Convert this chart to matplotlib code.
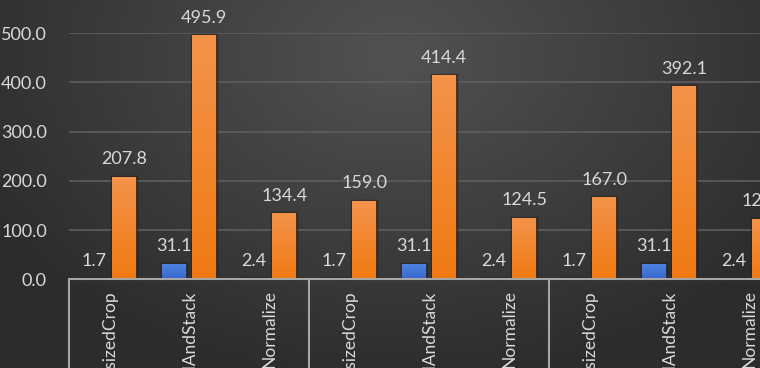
import numpy as np
import matplotlib
matplotlib.use("Agg")
import matplotlib.pyplot as plt
from matplotlib import patheffects as pe

categories = ["RandomResizedCrop", "PadAndStack", "Normalize",
              "RandomResizedCrop", "PadAndStack", "Normalize",
              "RandomResizedCrop", "PadAndStack", "Normalize"]
series_blue = [1.7, 31.1, 2.4, 1.7, 31.1, 2.4, 1.7, 31.1, 2.4]
series_orange = [207.8, 495.9, 134.4, 159.0, 414.4, 124.5, 167.0, 392.1, 122.6]
y_ticks = [0, 100, 200, 300, 400, 500]
group_size = 3

plt.rcParams['font.family'] = ['Lato', 'DejaVu Sans']
TXT = '#d9d9d9'
NUM_FS = 13
CAT_FS = 12.5

W, H = 760, 368
fig = plt.figure(figsize=(W / 100, H / 100), dpi=100)

# background radial gradient
bg = fig.add_axes([0, 0, 1, 1], zorder=-10)
yy, xx = np.mgrid[0:H, 0:W]
cx, cy = 0.52 * W, 0.15 * H
r = np.sqrt(((xx - cx) / (0.62 * W)) ** 2 + ((yy - cy) / (0.9 * H)) ** 2)
r = np.clip(r, 0, 1)
light = np.array([0x52, 0x52, 0x52]) / 255
dark = np.array([0x2c, 0x2c, 0x2c]) / 255
img = light[None, None, :] * (1 - r[..., None]) + dark[None, None, :] * r[..., None]
bg.imshow(img, aspect='auto', extent=[0, 1, 0, 1], origin='upper')
bg.axis('off')

# axes: baseline at y=279.3px, 500 at y=33px, left at x=69, 80px per category
left = 69 / W
bottom = (H - 279.3) / H
height = (279.3 - 33) / H
n = len(categories)
width = 80 * n / W
ax = fig.add_axes([left, bottom, width, height])
ax.patch.set_alpha(0)

x = np.arange(n)
bw = 0.3
off = 0.19

def grad_bars(bars, top_col, bot_col):
    for b in bars:
        x0, y0 = b.get_x(), b.get_y()
        w, h = b.get_width(), b.get_height()
        if h <= 0:
            continue
        g = np.linspace(0, 1, 64)[:, None, None]
        c = np.array(top_col)[None, None, :] * (1 - g) + np.array(bot_col)[None, None, :] * g
        im = ax.imshow(c, aspect='auto', extent=[x0, x0 + w, y0, y0 + h],
                       origin='upper', zorder=3, clip_on=True)
        im.set_clip_path(b)

def hexrgb(h):
    h = h.lstrip('#')
    return [int(h[i:i + 2], 16) / 255 for i in (0, 2, 4)]

shadow = [pe.withStroke(linewidth=2.5, foreground='#2a1f18', alpha=0.6)]
b1 = ax.bar(x - off, series_blue, bw, color='#4676d8', zorder=2, linewidth=0,
            path_effects=shadow)
b2 = ax.bar(x + off, series_orange, bw, color='#f28428', zorder=2, linewidth=0,
            path_effects=shadow)
ax.set_xlim(-0.5, n - 0.5)
ax.set_ylim(0, 500)
grad_bars(b1, hexrgb('#4f84e4'), hexrgb('#3a68cc'))
grad_bars(b2, hexrgb('#f4934a'), hexrgb('#f07a12'))

# data labels
for xi, v in zip(x - off, series_blue):
    ax.annotate(f"{v:.1f}", (xi, v), xytext=(0, 9), textcoords='offset points',
                ha='center', va='baseline', color=TXT, fontsize=NUM_FS, zorder=5)
for xi, v in zip(x + off, series_orange):
    ax.annotate(f"{v:.1f}", (xi, v), xytext=(0, 9), textcoords='offset points',
                ha='center', va='baseline', color=TXT, fontsize=NUM_FS, zorder=5,
                annotation_clip=False)

# grid
ax.set_yticks(y_ticks)
ax.set_yticklabels([f"{t:.1f}" for t in y_ticks], color=TXT, fontsize=NUM_FS)
ax.yaxis.grid(True, color='#5e5e5e', linewidth=1.2, zorder=0)
ax.set_axisbelow(True)
ax.tick_params(axis='y', length=0, pad=16)
for s in ['top', 'right', 'left']:
    ax.spines[s].set_visible(False)
ax.spines['bottom'].set_color('#a6a6a6')
ax.spines['bottom'].set_linewidth(1.5)
ax.spines['bottom'].set_zorder(6)

# category labels
ax.set_xticks(x)
ax.set_xticklabels(categories, rotation=90, va='top', ha='center', color=TXT, fontsize=CAT_FS)
ax.tick_params(axis='x', length=0, pad=8)

# group separators
for gpos in np.arange(0, n + 1, group_size) - 0.5:
    ax.plot([gpos, gpos], [0, -0.5], transform=ax.get_xaxis_transform(),
            color='#a6a6a6', linewidth=1.5, clip_on=False, zorder=6)

fig.savefig('out.png', dpi=100)
